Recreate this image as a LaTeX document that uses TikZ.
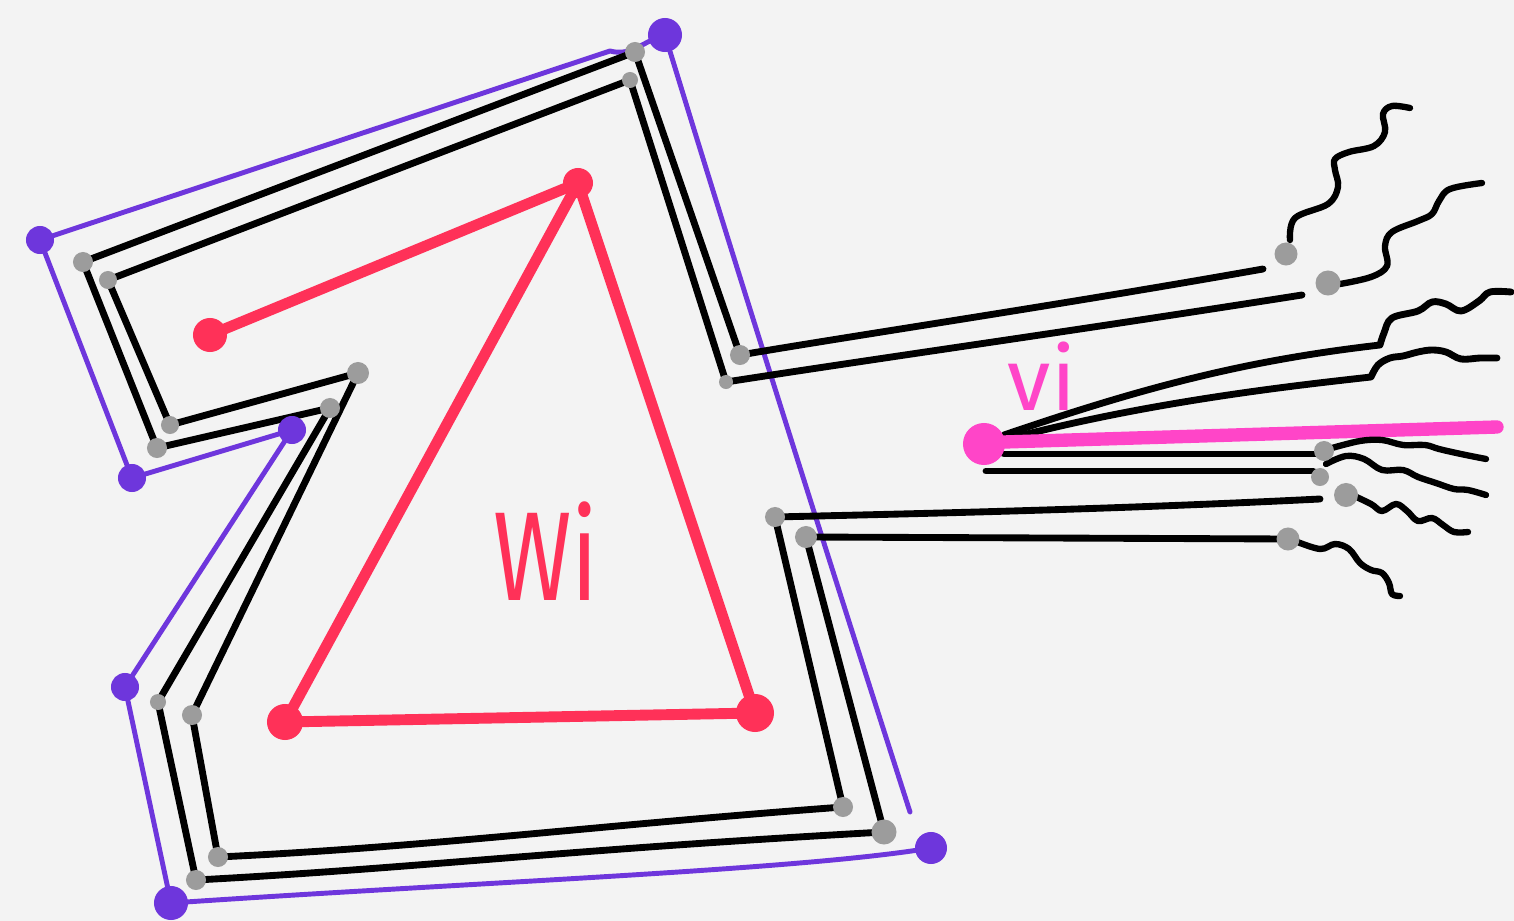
\documentclass[tikz,border=0pt]{standalone}
\usepackage{fontspec}
\setmainfont{Fira Sans}
\definecolor{bgc}{HTML}{F3F3F3}
\definecolor{purc}{HTML}{6E36DC}
\definecolor{redc}{HTML}{FF3158}
\definecolor{pinkc}{HTML}{FF45C8}
\definecolor{grayc}{HTML}{9C9C9C}
\begin{document}
\begin{tikzpicture}[x=0.01cm,y=-0.01cm,line cap=round,line join=round,
  blk/.style={line width=1.95pt,black},
  pur/.style={line width=1.4pt,purc},
  redl/.style={line width=3.1pt,redc},
  pinkl/.style={line width=3.8pt,pinkc},
  wav/.style={blk,line width=1.8pt},
  gdot/.style={circle,fill=grayc,inner sep=0pt,minimum size=#1},
  gdot/.default=0.2cm,
  pdot/.style={circle,fill=purc,inner sep=0pt,minimum size=#1},
  pdot/.default=0.28cm,
  rdot/.style={circle,fill=redc,inner sep=0pt,minimum size=#1},
  rdot/.default=0.34cm]
\fill[bgc] (0,0) rectangle (1514,921);
\useasboundingbox (0,0) rectangle (1514,921);

% purple outline vertices
\coordinate (p1) at (40,240);
\coordinate (p2) at (665,35);
\coordinate (p3) at (910,812);
\coordinate (p4) at (931,848);
\coordinate (p5) at (171,903);
\coordinate (p6) at (125,687);
\coordinate (p7) at (292,430);
\coordinate (p8) at (132,478);

% outer black track
\coordinate (a0) at (1263,269);
\coordinate (a1) at (740,355);
\coordinate (a2) at (635,52);
\coordinate (a3) at (83,262);
\coordinate (a4) at (157,448);
\coordinate (a5) at (330,408);
\coordinate (a6) at (158,702);
\coordinate (a7) at (196,880);
\coordinate (a8) at (884,832);
\coordinate (a9) at (806,537);
\coordinate (a10) at (1288,539);
% inner black track
\coordinate (b0) at (1302,295);
\coordinate (b1) at (726,382);
\coordinate (b2) at (630,80);
\coordinate (b3) at (108,280);
\coordinate (b4) at (170,425);
\coordinate (b5) at (358,373);
\coordinate (b6) at (192,715);
\coordinate (b7) at (218,857);
\coordinate (b8) at (843,807);
\coordinate (b9) at (775,517);
\coordinate (b10) at (1320,499);

% purple outline
\draw[pur] (p1) -- (610,51) to[out=-15,in=195] (p2);
\draw[pur] (p2) .. controls (720,215) and (800,470) .. (p3);
\draw[pur] (p4) .. controls (800,870) and (480,882) .. (p5);
\draw[pur] (p5) -- (p6) -- (p7) -- (p8) -- (p1);

% black tracks
\draw[blk] (a0) .. controls (1060,305) and (870,333) .. (a1) -- (a2) -- (a3) -- (a4) -- (a5) -- (a6) -- (a7)
  .. controls (420,868) and (560,850) .. (a8) -- (a9) -- (a10);
\draw[blk] (b0) .. controls (1060,333) and (900,355) .. (b1) -- (b2) -- (b3) -- (b4) -- (b5) -- (b6) -- (b7)
  .. controls (430,847) and (600,825) .. (b8) -- (b9) .. controls (900,514) and (1100,510) .. (b10);

% red triangle
\coordinate (r0) at (210,335);
\coordinate (r1) at (578,183);
\coordinate (r2) at (285,722);
\coordinate (r3) at (755,713);
\draw[redl] (r0) -- (r1);
\draw[redl] (r1) -- (r2) -- (r3) -- cycle;
\node[rdot] (rd0) at (r0) {};
\node[rdot=0.3cm] (rd1) at (r1) {};
\node[rdot=0.36cm] (rd2) at (r2) {};
\node[rdot=0.38cm] (rd3) at (r3) {};
\node[redc,font=\fontsize{36}{38}\selectfont,xscale=0.75] (wi) at (546,551) {Wi};

% vi
\coordinate (vi) at (984,444);
\draw[blk] (1004,435) .. controls (1150,385) and (1250,360) .. (1380,345)
  plot[smooth,tension=0.6] coordinates {(1380,345) (1384,333) (1392,318) (1418,311) (1432,302) (1446,304) (1461,311) (1479,301) (1490,292) (1511,292)};
\draw[blk] (1004,440) .. controls (1150,401) and (1300,385) .. (1371,377)
  plot[smooth,tension=0.6] coordinates {(1371,377) (1378,365) (1390,358) (1403,356) (1418,352) (1432,350) (1446,352) (1461,359) (1480,358) (1497,358)};
\draw[blk] (1004,454) -- (1320,454);
\draw[blk] (986,471) -- (1313,471);
\draw[pinkl] (1004,442) -- (1497,427);
\node[circle,fill=pinkc,inner sep=0pt,minimum size=0.42cm] (vid) at (vi) {};
\node[pinkc,font=\fontsize{25}{28}\selectfont] (vit) at (1042,376) {vi};

% wavy ends
\draw[wav] plot[smooth,tension=0.6] coordinates {(1290,240) (1295,218) (1328,204) (1338,187) (1335,170) (1335,159) (1349,152) (1374,146) (1385,132) (1383,114) (1392,106) (1410,108)};
\draw[wav] plot[smooth,tension=0.6] coordinates {(1340,284) (1371,277) (1387,266) (1385,246) (1392,232) (1418,221) (1432,214) (1439,201) (1450,189) (1482,183)};
\draw[wav] plot[smooth,tension=0.6] coordinates {(1332,448) (1360,441) (1382,440) (1403,445) (1425,445) (1439,449) (1461,454) (1486,459)};
\draw[wav] plot[smooth,tension=0.6] coordinates {(1326,464) (1346,456) (1364,459) (1382,470) (1403,470) (1418,477) (1436,483) (1454,489) (1468,490) (1486,495)};
\draw[wav] plot[smooth,tension=0.6] coordinates {(1350,494) (1371,504) (1382,511) (1396,504) (1407,511) (1418,521) (1432,518) (1443,525) (1454,532) (1468,532)};
\draw[wav] plot[smooth,tension=0.6] coordinates {(1295,541) (1320,549) (1335,544) (1349,549) (1360,563) (1371,570) (1382,573) (1389,583) (1392,594) (1400,596)};

% gray dots
\node[gdot=0.2cm] (ga1) at (a1) {};
\node[gdot=0.14cm] (gb1) at (b1) {};
\node[gdot=0.2cm] (ga2) at (a2) {};
\node[gdot=0.16cm] (gb2) at (b2) {};
\node[gdot=0.2cm] (ga3) at (a3) {};
\node[gdot=0.18cm] (gb3) at (b3) {};
\node[gdot=0.2cm] (ga4) at (a4) {};
\node[gdot=0.18cm] (gb4) at (b4) {};
\node[gdot=0.2cm] (ga5) at (a5) {};
\node[gdot=0.22cm] (gb5) at (b5) {};
\node[gdot=0.16cm] (ga6) at (a6) {};
\node[gdot=0.2cm] (gb6) at (b6) {};
\node[gdot=0.2cm] (ga7) at (a7) {};
\node[gdot=0.2cm] (gb7) at (b7) {};
\node[gdot=0.25cm] (ga8) at (a8) {};
\node[gdot=0.2cm] (gb8) at (b8) {};
\node[gdot=0.22cm] (ga9) at (a9) {};
\node[gdot=0.2cm] (gb9) at (b9) {};
\node[gdot=0.23cm] (ga10) at (a10) {};
\node[gdot=0.24cm] (gb10) at (1346,495) {};
\node[gdot=0.23cm] (ga0) at (1286,254) {};
\node[gdot=0.25cm] (gb0) at (1328,283) {};
\node[gdot=0.2cm] (gv3) at (1324,451) {};
\node[gdot=0.18cm] (gv4) at (1320,477) {};

% purple dots
\node[pdot=0.28cm] (pd1) at (p1) {};
\node[pdot=0.34cm] (pd2) at (p2) {};
\node[pdot=0.32cm] (pd4) at (p4) {};
\node[pdot=0.34cm] (pd5) at (p5) {};
\node[pdot=0.28cm] (pd6) at (p6) {};
\node[pdot=0.28cm] (pd7) at (p7) {};
\node[pdot=0.28cm] (pd8) at (p8) {};
\end{tikzpicture}
\end{document}
